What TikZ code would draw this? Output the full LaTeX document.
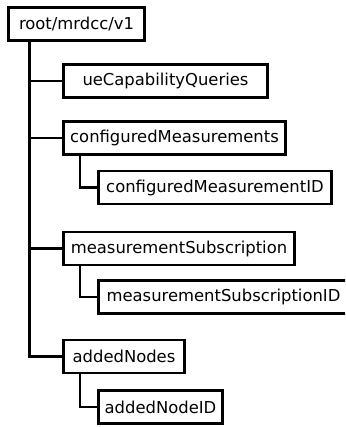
\documentclass[tikz,border=0pt]{standalone}
\usepackage{fontspec}
\setmainfont{DejaVu Sans}
\begin{document}
\begin{tikzpicture}[x=1pt,y=-1pt,
  box/.style={draw=black,line width=2.8pt,fill=white,inner sep=0pt,minimum height=33pt,font=\fontsize{16.4}{19}\selectfont},
  conn/.style={draw=black,line width=2.8pt}]
\useasboundingbox (0,0) rectangle (345,427);
\clip (0,0) rectangle (345,427);
\node[box,minimum width=136.5pt] (root) at (76.5,24) {root/mrdcc/v1};
\node[box,minimum width=204.5pt] (ue) at (165.5,81) {ueCapabilityQueries};
\node[box,minimum width=222.5pt] (cm) at (174.5,138) {configuredMeasurements};
\node[box,minimum width=233.5pt] (cmid) at (215,187.5) {configuredMeasurementID};
\node[box,minimum width=231.5pt] (ms) at (179,248.5) {measurementSubscription};
\node[box,minimum width=250pt] (msid) at (223.5,297) {measurementSubscriptionID};
\node[box,minimum width=121.5pt] (an) at (124,356.5) {addedNodes};
\node[box,minimum width=124.5pt] (anid) at (160.5,407) {addedNodeID};
\coordinate (tr) at (29.5,0);
\draw[conn] (tr |- root.south) -- (tr |- an.west) -- (an.west);
\draw[conn] (tr |- ue.west) -- (ue.west);
\draw[conn] (tr |- cm.west) -- (cm.west);
\draw[conn] (tr |- ms.west) -- (ms.west);
\coordinate (sb) at (80,0);
\draw[conn] (sb |- cm.south) -- (sb |- cmid.west) -- (cmid.west);
\draw[conn] (sb |- ms.south) -- (sb |- msid.west) -- (msid.west);
\draw[conn] (sb |- an.south) -- (sb |- anid.west) -- (anid.west);
\end{tikzpicture}
\end{document}
